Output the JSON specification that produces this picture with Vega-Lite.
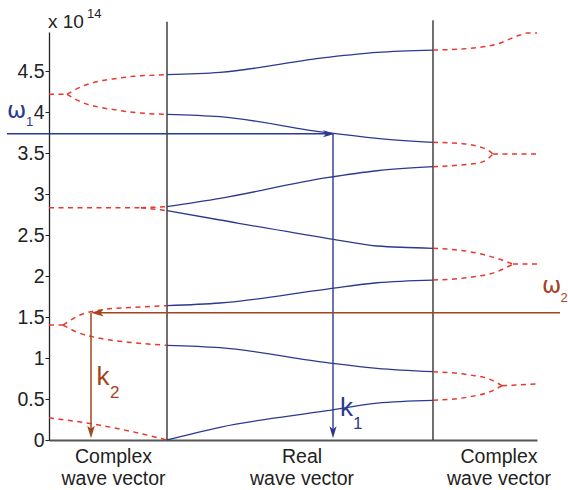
{
  "$schema": "https://vega.github.io/schema/vega-lite/v6.json",
  "width": 488,
  "height": 408,
  "autosize": "none",
  "padding": {"left": 49, "top": 32, "right": 31, "bottom": 50},
  "background": "white",
  "config": {"view": {"stroke": null}, "axis": {"grid": false}},
  "datasets": {
    "curves": [
      {"id": "L7s", "kind": "e", "x": 0, "y": 4.216}, {"id": "L7s", "kind": "e", "x": 18, "y": 4.216},
      {"id": "L7u", "kind": "e", "x": 18, "y": 4.216}, {"id": "L7u", "kind": "e", "x": 34, "y": 4.317}, {"id": "L7u", "kind": "e", "x": 51, "y": 4.378}, {"id": "L7u", "kind": "e", "x": 68, "y": 4.41}, {"id": "L7u", "kind": "e", "x": 84, "y": 4.435}, {"id": "L7u", "kind": "e", "x": 101, "y": 4.447}, {"id": "L7u", "kind": "e", "x": 118, "y": 4.455},
      {"id": "L7l", "kind": "e", "x": 18, "y": 4.216}, {"id": "L7l", "kind": "e", "x": 34, "y": 4.113}, {"id": "L7l", "kind": "e", "x": 51, "y": 4.057}, {"id": "L7l", "kind": "e", "x": 68, "y": 4.024}, {"id": "L7l", "kind": "e", "x": 84, "y": 3.996}, {"id": "L7l", "kind": "e", "x": 101, "y": 3.98}, {"id": "L7l", "kind": "e", "x": 118, "y": 3.972},
      {"id": "L5s", "kind": "e", "x": 0, "y": 2.833}, {"id": "L5s", "kind": "e", "x": 92, "y": 2.833},
      {"id": "L5u", "kind": "e", "x": 92, "y": 2.833}, {"id": "L5u", "kind": "e", "x": 118, "y": 2.845},
      {"id": "L5l", "kind": "e", "x": 92, "y": 2.833}, {"id": "L5l", "kind": "e", "x": 118, "y": 2.797},
      {"id": "L3s", "kind": "e", "x": 0, "y": 1.402}, {"id": "L3s", "kind": "e", "x": 14, "y": 1.402},
      {"id": "L3u", "kind": "e", "x": 14, "y": 1.402}, {"id": "L3u", "kind": "e", "x": 31, "y": 1.524}, {"id": "L3u", "kind": "e", "x": 51, "y": 1.585}, {"id": "L3u", "kind": "e", "x": 84, "y": 1.618}, {"id": "L3u", "kind": "e", "x": 118, "y": 1.638},
      {"id": "L3l", "kind": "e", "x": 14, "y": 1.402}, {"id": "L3l", "kind": "e", "x": 31, "y": 1.301}, {"id": "L3l", "kind": "e", "x": 51, "y": 1.24}, {"id": "L3l", "kind": "e", "x": 84, "y": 1.187}, {"id": "L3l", "kind": "e", "x": 118, "y": 1.155},
      {"id": "L1", "kind": "e", "x": 0, "y": 0.27}, {"id": "L1", "kind": "e", "x": 25, "y": 0.23}, {"id": "L1", "kind": "e", "x": 51, "y": 0.18}, {"id": "L1", "kind": "e", "x": 84, "y": 0.1}, {"id": "L1", "kind": "e", "x": 118, "y": 0},
      {"id": "R7", "kind": "e", "x": 384, "y": 4.756}, {"id": "R7", "kind": "e", "x": 421, "y": 4.777}, {"id": "R7", "kind": "e", "x": 448, "y": 4.829}, {"id": "R7", "kind": "e", "x": 471, "y": 4.939}, {"id": "R7", "kind": "e", "x": 478, "y": 4.963}, {"id": "R7", "kind": "e", "x": 488, "y": 4.963},
      {"id": "R6u", "kind": "e", "x": 384, "y": 3.63}, {"id": "R6u", "kind": "e", "x": 414, "y": 3.614}, {"id": "R6u", "kind": "e", "x": 431, "y": 3.573}, {"id": "R6u", "kind": "e", "x": 439, "y": 3.537}, {"id": "R6u", "kind": "e", "x": 444, "y": 3.488},
      {"id": "R6l", "kind": "e", "x": 384, "y": 3.333}, {"id": "R6l", "kind": "e", "x": 414, "y": 3.357}, {"id": "R6l", "kind": "e", "x": 431, "y": 3.382}, {"id": "R6l", "kind": "e", "x": 439, "y": 3.43}, {"id": "R6l", "kind": "e", "x": 444, "y": 3.488},
      {"id": "R6s", "kind": "e", "x": 444, "y": 3.488}, {"id": "R6s", "kind": "e", "x": 488, "y": 3.488},
      {"id": "R4u", "kind": "e", "x": 384, "y": 2.338}, {"id": "R4u", "kind": "e", "x": 421, "y": 2.296}, {"id": "R4u", "kind": "e", "x": 448, "y": 2.215}, {"id": "R4u", "kind": "e", "x": 464, "y": 2.146},
      {"id": "R4l", "kind": "e", "x": 384, "y": 1.951}, {"id": "R4l", "kind": "e", "x": 421, "y": 1.984}, {"id": "R4l", "kind": "e", "x": 448, "y": 2.053}, {"id": "R4l", "kind": "e", "x": 464, "y": 2.146},
      {"id": "R4s", "kind": "e", "x": 464, "y": 2.146}, {"id": "R4s", "kind": "e", "x": 488, "y": 2.146},
      {"id": "R2u", "kind": "e", "x": 384, "y": 0.833}, {"id": "R2u", "kind": "e", "x": 421, "y": 0.793}, {"id": "R2u", "kind": "e", "x": 441, "y": 0.74}, {"id": "R2u", "kind": "e", "x": 453, "y": 0.662},
      {"id": "R2l", "kind": "e", "x": 384, "y": 0.484}, {"id": "R2l", "kind": "e", "x": 421, "y": 0.528}, {"id": "R2l", "kind": "e", "x": 441, "y": 0.589}, {"id": "R2l", "kind": "e", "x": 453, "y": 0.662},
      {"id": "R2s", "kind": "e", "x": 453, "y": 0.662}, {"id": "R2s", "kind": "e", "x": 488, "y": 0.683},
      {"id": "B1", "kind": "b", "x": 118, "y": 0}, {"id": "B1", "kind": "b", "x": 171, "y": 0.155}, {"id": "B1", "kind": "b", "x": 278, "y": 0.357}, {"id": "B1", "kind": "b", "x": 328, "y": 0.45}, {"id": "B1", "kind": "b", "x": 384, "y": 0.484},
      {"id": "B2", "kind": "b", "x": 118, "y": 1.155}, {"id": "B2", "kind": "b", "x": 171, "y": 1.126}, {"id": "B2", "kind": "b", "x": 278, "y": 0.943}, {"id": "B2", "kind": "b", "x": 328, "y": 0.874}, {"id": "B2", "kind": "b", "x": 384, "y": 0.833},
      {"id": "B3", "kind": "b", "x": 118, "y": 1.638}, {"id": "B3", "kind": "b", "x": 171, "y": 1.671}, {"id": "B3", "kind": "b", "x": 278, "y": 1.841}, {"id": "B3", "kind": "b", "x": 328, "y": 1.918}, {"id": "B3", "kind": "b", "x": 384, "y": 1.951},
      {"id": "B4", "kind": "b", "x": 118, "y": 2.797}, {"id": "B4", "kind": "b", "x": 171, "y": 2.683}, {"id": "B4", "kind": "b", "x": 278, "y": 2.46}, {"id": "B4", "kind": "b", "x": 328, "y": 2.366}, {"id": "B4", "kind": "b", "x": 384, "y": 2.338},
      {"id": "B5", "kind": "b", "x": 118, "y": 2.845}, {"id": "B5", "kind": "b", "x": 171, "y": 2.947}, {"id": "B5", "kind": "b", "x": 278, "y": 3.199}, {"id": "B5", "kind": "b", "x": 328, "y": 3.284}, {"id": "B5", "kind": "b", "x": 384, "y": 3.333},
      {"id": "B6", "kind": "b", "x": 118, "y": 3.972}, {"id": "B6", "kind": "b", "x": 171, "y": 3.943}, {"id": "B6", "kind": "b", "x": 278, "y": 3.748}, {"id": "B6", "kind": "b", "x": 328, "y": 3.679}, {"id": "B6", "kind": "b", "x": 384, "y": 3.63},
      {"id": "B7", "kind": "b", "x": 118, "y": 4.455}, {"id": "B7", "kind": "b", "x": 171, "y": 4.484}, {"id": "B7", "kind": "b", "x": 278, "y": 4.667}, {"id": "B7", "kind": "b", "x": 328, "y": 4.728}, {"id": "B7", "kind": "b", "x": 384, "y": 4.756}
    ],
    "rules": [
      {"kind": "sep", "x": 118, "y": 0, "x2": 118, "y2": 5.1},
      {"kind": "sep", "x": 384, "y": 0, "x2": 384, "y2": 5.12},
      {"kind": "w1", "x": -42, "y": 3.735, "x2": 280, "y2": 3.735},
      {"kind": "w1", "x": 284, "y": 3.735, "x2": 284, "y2": 0.1},
      {"kind": "w2", "x": 511, "y": 1.552, "x2": 48, "y2": 1.552},
      {"kind": "w2", "x": 42, "y": 1.552, "x2": 42, "y2": 0.1}
    ],
    "heads": [
      {"kind": "w1", "dir": "right", "x": 286, "y": 3.735},
      {"kind": "w1", "dir": "down", "x": 284, "y": 0.02},
      {"kind": "w2", "dir": "left", "x": 42, "y": 1.552},
      {"kind": "w2", "dir": "down", "x": 42, "y": 0.02}
    ],
    "texts": [
      {"grp": "ax", "x": 64.5, "y": -0.28, "t": "Complex\nwave vector"},
      {"grp": "ax", "x": 253, "y": -0.28, "t": "Real\nwave vector"},
      {"grp": "ax", "x": 450, "y": -0.28, "t": "Complex\nwave vector"},
      {"grp": "x10", "x": -1, "y": 5.024, "t": "x 10"},
      {"grp": "sup", "x": 38, "y": 5.15, "t": "14"},
      {"grp": "w1", "x": -42, "y": 3.927, "t": "ω"},
      {"grp": "w1s", "x": -23, "y": 3.829, "t": "1"},
      {"grp": "w2", "x": 493, "y": 1.793, "t": "ω"},
      {"grp": "w2s", "x": 511.5, "y": 1.683, "t": "2"},
      {"grp": "k1", "x": 291, "y": 0.296, "t": "k"},
      {"grp": "k1s", "x": 304, "y": 0.13, "t": "1"},
      {"grp": "k2", "x": 47.5, "y": 0.671, "t": "k"},
      {"grp": "k2s", "x": 61, "y": 0.512, "t": "2"}
    ]
  },
  "encoding": {
    "x": {"field": "x", "type": "quantitative", "title": null,
          "scale": {"domain": [0, 488], "nice": false, "zero": false},
          "axis": {"ticks": false, "labels": false, "domainColor": "#555555", "domainWidth": 2, "grid": false}},
    "y": {"field": "y", "type": "quantitative", "title": null,
          "scale": {"domain": [0, 4.976], "nice": false},
          "axis": {"values": [0, 0.5, 1, 1.5, 2, 2.5, 3, 3.5, 4, 4.5], "format": "~g", "tickSize": 4, "labelPadding": 1,
                   "labelFontSize": 19.5, "labelFont": "Liberation Sans", "labelColor": "#222222",
                   "tickColor": "#222222", "domainColor": "#222222", "domainWidth": 1.3, "grid": false}}
  },
  "layer": [
    {"data": {"name": "rules"}, "transform": [{"filter": "datum.kind === 'sep'"}],
     "mark": {"type": "rule", "color": "#222222", "strokeWidth": 1.3},
     "encoding": {"x2": {"field": "x2"}, "y2": {"field": "y2"}}},
    {"data": {"name": "curves"}, "transform": [{"filter": "datum.kind === 'e'"}],
     "mark": {"type": "line", "interpolate": "monotone", "color": "#E8382E", "strokeWidth": 1.5, "strokeDash": [5, 4.5]},
     "encoding": {"detail": {"field": "id"}}},
    {"data": {"name": "curves"}, "transform": [{"filter": "datum.kind === 'b'"}],
     "mark": {"type": "line", "interpolate": "monotone", "color": "#2B3990", "strokeWidth": 1.3},
     "encoding": {"detail": {"field": "id"}}},
    {"data": {"name": "rules"}, "transform": [{"filter": "datum.kind === 'w1'"}],
     "mark": {"type": "rule", "color": "#2B3990", "strokeWidth": 1.4},
     "encoding": {"x2": {"field": "x2"}, "y2": {"field": "y2"}}},
    {"data": {"name": "rules"}, "transform": [{"filter": "datum.kind === 'w2'"}],
     "mark": {"type": "rule", "color": "#A3441C", "strokeWidth": 1.5},
     "encoding": {"x2": {"field": "x2"}, "y2": {"field": "y2"}}},
    {"data": {"name": "heads"}, "transform": [{"filter": "datum.kind === 'w1'"}],
     "mark": {"type": "point", "filled": true, "opacity": 1, "color": "#2B3990", "size": 144, "strokeWidth": 0},
     "encoding": {"shape": {"field": "dir", "legend": null,
       "scale": {"domain": ["right", "down", "left"], "range": ["M0,0L-2,-0.6L-1.5,0L-2,0.6Z", "M0,0L-0.6,-2L0,-1.5L0.6,-2Z", "M0,0L2,-0.6L1.5,0L2,0.6Z"]}}}},
    {"data": {"name": "heads"}, "transform": [{"filter": "datum.kind === 'w2'"}],
     "mark": {"type": "point", "filled": true, "opacity": 1, "color": "#A3441C", "size": 160, "strokeWidth": 0},
     "encoding": {"shape": {"field": "dir", "legend": null,
       "scale": {"domain": ["right", "down", "left"], "range": ["M0,0L-2,-0.6L-1.5,0L-2,0.6Z", "M0,0L-0.6,-2L0,-1.5L0.6,-2Z", "M0,0L2,-0.6L1.5,0L2,0.6Z"]}}}},
    {"data": {"name": "texts"}, "transform": [{"filter": "datum.grp === 'ax'"}],
     "mark": {"type": "text", "font": "Liberation Sans", "fontSize": 19.5, "color": "#222222", "align": "center", "baseline": "alphabetic", "lineBreak": "\n", "lineHeight": 22},
     "encoding": {"text": {"field": "t"}}},
    {"data": {"name": "texts"}, "transform": [{"filter": "datum.grp === 'x10'"}],
     "mark": {"type": "text", "font": "Liberation Sans", "fontSize": 19, "color": "#222222", "align": "left", "baseline": "alphabetic"},
     "encoding": {"text": {"field": "t"}}},
    {"data": {"name": "texts"}, "transform": [{"filter": "datum.grp === 'sup'"}],
     "mark": {"type": "text", "font": "Liberation Sans", "fontSize": 13, "color": "#222222", "align": "left", "baseline": "alphabetic"},
     "encoding": {"text": {"field": "t"}}},
    {"data": {"name": "texts"}, "transform": [{"filter": "datum.grp === 'w1'"}],
     "mark": {"type": "text", "font": "DejaVu Sans", "fontSize": 23, "color": "#2B3990", "align": "left", "baseline": "alphabetic"},
     "encoding": {"text": {"field": "t"}}},
    {"data": {"name": "texts"}, "transform": [{"filter": "datum.grp === 'w1s'"}],
     "mark": {"type": "text", "font": "Liberation Sans", "fontSize": 13, "color": "#2B3990", "align": "left", "baseline": "alphabetic"},
     "encoding": {"text": {"field": "t"}}},
    {"data": {"name": "texts"}, "transform": [{"filter": "datum.grp === 'w2'"}],
     "mark": {"type": "text", "font": "DejaVu Sans", "fontSize": 23, "color": "#A3441C", "align": "left", "baseline": "alphabetic"},
     "encoding": {"text": {"field": "t"}}},
    {"data": {"name": "texts"}, "transform": [{"filter": "datum.grp === 'w2s'"}],
     "mark": {"type": "text", "font": "Liberation Sans", "fontSize": 13, "color": "#A3441C", "align": "left", "baseline": "alphabetic"},
     "encoding": {"text": {"field": "t"}}},
    {"data": {"name": "texts"}, "transform": [{"filter": "datum.grp === 'k1'"}],
     "mark": {"type": "text", "font": "Liberation Sans", "fontSize": 26, "color": "#2B3990", "align": "left", "baseline": "alphabetic"},
     "encoding": {"text": {"field": "t"}}},
    {"data": {"name": "texts"}, "transform": [{"filter": "datum.grp === 'k1s'"}],
     "mark": {"type": "text", "font": "Liberation Sans", "fontSize": 17, "color": "#2B3990", "align": "left", "baseline": "alphabetic"},
     "encoding": {"text": {"field": "t"}}},
    {"data": {"name": "texts"}, "transform": [{"filter": "datum.grp === 'k2'"}],
     "mark": {"type": "text", "font": "Liberation Sans", "fontSize": 26, "color": "#A3441C", "align": "left", "baseline": "alphabetic"},
     "encoding": {"text": {"field": "t"}}},
    {"data": {"name": "texts"}, "transform": [{"filter": "datum.grp === 'k2s'"}],
     "mark": {"type": "text", "font": "Liberation Sans", "fontSize": 17, "color": "#A3441C", "align": "left", "baseline": "alphabetic"},
     "encoding": {"text": {"field": "t"}}}
  ]
}
